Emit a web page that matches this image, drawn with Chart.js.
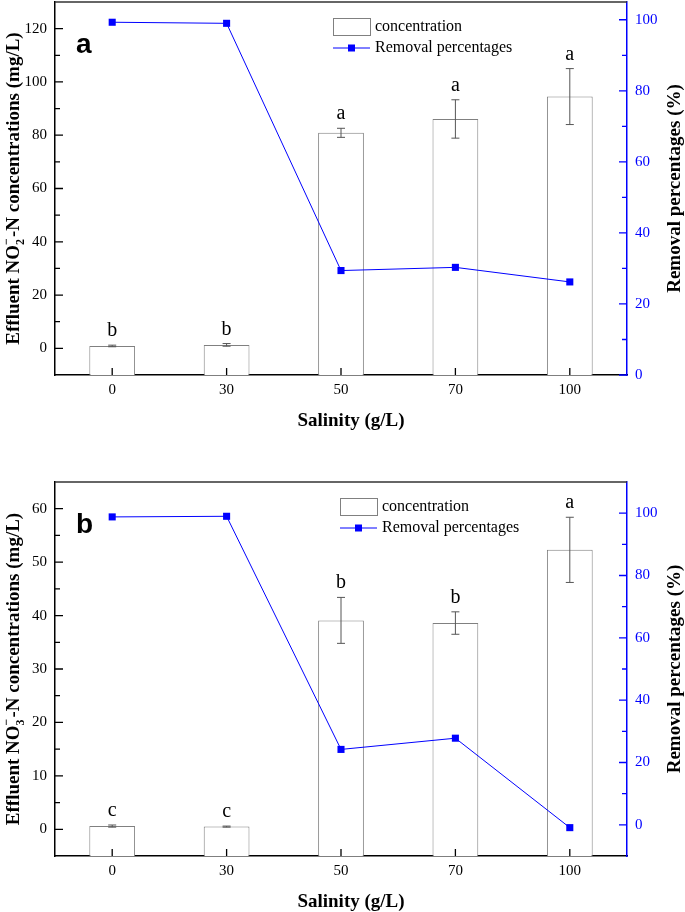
<!DOCTYPE html>
<html>
<head>
<meta charset="utf-8">
<script src="https://cdn.jsdelivr.net/npm/chart.js@4.4.1/dist/chart.umd.min.js"></script>
<style>
  body { margin: 0; background: #fff; overflow: hidden; }
  canvas { position: absolute; left: 0; }
</style>
</head>
<body>
<canvas id="chartA" width="685" height="443" style="top:-3px"></canvas>
<canvas id="chartB" width="685" height="462" style="top:450px"></canvas>
<script>
// salinity levels (g/L)
var salinity = ['0', '30', '50', '70', '100'];

// panel a: nitrite
var no2Conc = [0.9, 1.3, 80.9, 86.1, 94.5];
var no2Err = [0.3, 0.5, 1.7, 7.2, 10.5];
var no2Removal = [99.3, 99.0, 29.4, 30.3, 26.2];
var no2Letters = ['b', 'b', 'a', 'a', 'a'];
var no2Ticks = [0, 20, 40, 60, 80, 100, 120];
var removalTicksA = [0, 20, 40, 60, 80, 100];

// panel b: nitrate
var no3Conc = [0.6, 0.5, 39.1, 38.6, 52.3];
var no3Err = [0.2, 0.1, 4.3, 2.1, 6.1];
var no3Removal = [98.8, 99.0, 24.2, 27.8, -0.9];
var no3Letters = ['c', 'c', 'b', 'b', 'a'];
var no3Ticks = [0, 10, 20, 30, 40, 50, 60];
var removalTicksB = [0, 20, 40, 60, 80, 100];

var SERIF = '"Liberation Serif", "Times New Roman", serif';

function inTicks(ctx, scale, x0, dir, color) {
  var t = scale.ticks.map(function (k) { return k.value; });
  ctx.strokeStyle = color;
  ctx.lineWidth = 1.3;
  ctx.beginPath();
  t.forEach(function (v) {
    var p = scale.getPixelForValue(v);
    ctx.moveTo(x0, p); ctx.lineTo(x0 + dir * 8, p);
  });
  var step = t[1] - t[0];
  var minors = [t[0] - step / 2];
  for (var i = 0; i < t.length; i++) minors.push(t[i] + step / 2);
  minors.forEach(function (v) {
    if (v <= scale.min || v >= scale.max) return;
    var p = scale.getPixelForValue(v);
    ctx.moveTo(x0, p); ctx.lineTo(x0 + dir * 5, p);
  });
  ctx.stroke();
}

var decor = {
  id: 'decor',
  afterDraw: function (chart, args, o) {
    var ctx = chart.ctx, a = chart.chartArea;
    var x = chart.scales.x, y = chart.scales.y, y1 = chart.scales.y1;
    ctx.save();

    // top frame line
    ctx.strokeStyle = '#333';
    ctx.lineWidth = 1.5;
    ctx.beginPath(); ctx.moveTo(a.left, a.top); ctx.lineTo(a.right, a.top); ctx.stroke();

    inTicks(ctx, y, a.left, 1, '#000');
    inTicks(ctx, y1, a.right, -1, '#0000ff');

    ctx.strokeStyle = '#000';
    ctx.beginPath();
    for (var i = 0; i < salinity.length; i++) {
      var px = x.getPixelForValue(i);
      ctx.moveTo(px, a.bottom); ctx.lineTo(px, a.bottom - 7);
    }
    ctx.stroke();

    // error bars + letters
    ctx.strokeStyle = '#555';
    ctx.lineWidth = 1;
    ctx.font = '20px ' + SERIF;
    ctx.fillStyle = '#000';
    ctx.textAlign = 'center';
    ctx.textBaseline = 'alphabetic';
    for (var j = 0; j < o.conc.length; j++) {
      var cx = x.getPixelForValue(j);
      var top = y.getPixelForValue(o.conc[j] + o.err[j]);
      var bot = y.getPixelForValue(o.conc[j] - o.err[j]);
      ctx.beginPath();
      ctx.moveTo(cx, top); ctx.lineTo(cx, bot);
      ctx.moveTo(cx - 4, top); ctx.lineTo(cx + 4, top);
      ctx.moveTo(cx - 4, bot); ctx.lineTo(cx + 4, bot);
      ctx.stroke();
      ctx.fillText(o.letters[j], cx, top - 9);
    }

    // legend
    var lx = o.legendX, ly = a.top + 16;
    ctx.strokeStyle = '#808080';
    ctx.lineWidth = 1;
    ctx.strokeRect(lx + 0.5, ly + 0.5, 37, 17);
    ctx.strokeStyle = '#0000ff';
    ctx.beginPath(); ctx.moveTo(lx, ly + 30); ctx.lineTo(lx + 37, ly + 30); ctx.stroke();
    ctx.fillStyle = '#0000ff';
    ctx.fillRect(lx + 15, ly + 26.5, 7, 7);
    ctx.fillStyle = '#000';
    ctx.font = '16px ' + SERIF;
    ctx.textAlign = 'left';
    ctx.textBaseline = 'middle';
    ctx.fillText('concentration', lx + 42, ly + 9);
    ctx.fillText('Removal percentages', lx + 42, ly + 30);

    // panel letter
    ctx.font = 'bold 28px "Liberation Sans", Arial, sans-serif';
    ctx.textBaseline = 'alphabetic';
    ctx.fillText(o.panel, 76, a.top + 51);

    // x title
    ctx.font = 'bold 19px ' + SERIF;
    ctx.textAlign = 'center';
    ctx.textBaseline = 'middle';
    ctx.fillText('Salinity (g/L)', (a.left + a.right) / 2 + 10, a.bottom + 46);

    // right title
    var cy = (a.top + a.bottom) / 2;
    ctx.save();
    ctx.translate(675, cy);
    ctx.rotate(-Math.PI / 2);
    ctx.fillText('Removal percentages (%)', 0, 0);
    ctx.restore();

    // left title with sub/superscript
    ctx.save();
    ctx.translate(13, cy);
    ctx.rotate(-Math.PI / 2);
    ctx.textAlign = 'left';
    ctx.textBaseline = 'alphabetic';
    var big = 'bold 19px ' + SERIF, small = 'bold 12px ' + SERIF;
    var p1 = 'Effluent NO', p2 = '-N concentrations (mg/L)';
    ctx.font = big;
    var w1 = ctx.measureText(p1).width, w2 = ctx.measureText(p2).width;
    ctx.font = small;
    var ws = Math.max(ctx.measureText(o.sub).width, ctx.measureText('\u2212').width) + 1;
    var sx = -(w1 + ws + w2) / 2;
    ctx.font = big;
    ctx.fillText(p1, sx, 6);
    ctx.font = small;
    ctx.fillText(o.sub, sx + w1, 11);
    ctx.fillText('\u2212', sx + w1, -3);
    ctx.font = big;
    ctx.fillText(p2, sx + w1 + ws, 6);
    ctx.restore();

    ctx.restore();
  }
};

function makeChart(id, conc, err, removal, letters, leftTicks, rightTicks, cfg) {
  return new Chart(document.getElementById(id), {
    type: 'bar',
    data: {
      labels: salinity,
      datasets: [
        {
          type: 'line',
          label: 'Removal percentages',
          data: removal,
          yAxisID: 'y1',
          borderColor: '#0000ff',
          borderWidth: 1,
          pointStyle: 'rect',
          pointRadius: 5,
          pointBackgroundColor: '#0000ff',
          pointBorderColor: '#0000ff',
          pointBorderWidth: 0,
          tension: 0,
          order: 0
        },
        {
          label: 'concentration',
          data: conc,
          yAxisID: 'y',
          base: cfg.yMin,
          backgroundColor: '#ffffff',
          borderColor: '#808080',
          borderWidth: 1,
          categoryPercentage: 1,
          barPercentage: 0.4,
          order: 1
        }
      ]
    },
    options: {
      responsive: false,
      animation: false,
      events: [],
      layout: { padding: { top: cfg.padTop, left: 0, right: 0, bottom: 0 } },
      plugins: {
        legend: { display: false },
        tooltip: { enabled: false },
        decor: { conc: conc, err: err, letters: letters, panel: cfg.panel, sub: cfg.sub, legendX: cfg.legendX }
      },
      scales: {
        x: {
          offset: true,
          grid: { display: false, drawTicks: false },
          border: { color: '#000', width: 1.5 },
          ticks: { color: '#000', font: { family: SERIF, size: 15 }, padding: 6 },
          afterFit: function (s) { s.height = cfg.xHeight; s.paddingLeft = 0; s.paddingRight = 0; }
        },
        y: {
          position: 'left',
          min: cfg.yMin,
          max: cfg.yMax,
          grid: { display: false, drawTicks: false },
          border: { color: '#000', width: 1.5 },
          ticks: { color: '#000', font: { family: SERIF, size: 15 }, padding: 8 },
          afterBuildTicks: function (s) { s.ticks = leftTicks.map(function (v) { return { value: v }; }); },
          afterFit: function (s) { s.width = 55; s.paddingTop = 0; s.paddingBottom = 0; }
        },
        y1: {
          position: 'right',
          min: cfg.rMin,
          max: cfg.rMax,
          grid: { display: false, drawTicks: false },
          border: { color: '#0000ff', width: 1.5 },
          ticks: { color: '#0000ff', font: { family: SERIF, size: 15 }, padding: 8 },
          afterBuildTicks: function (s) { s.ticks = rightTicks.map(function (v) { return { value: v }; }); },
          afterFit: function (s) { s.width = 58; s.paddingTop = 0; s.paddingBottom = 0; }
        }
      }
    },
    plugins: [decor]
  });
}

makeChart('chartA', no2Conc, no2Err, no2Removal, no2Letters, no2Ticks, removalTicksA,
  { yMin: -10, yMax: 130, rMin: 0, rMax: 105, padTop: 1, xHeight: 65, panel: 'a', sub: '2', legendX: 333 });

makeChart('chartB', no3Conc, no3Err, no3Removal, no3Letters, no3Ticks, removalTicksB,
  { yMin: -5, yMax: 65, rMin: -10, rMax: 110, padTop: 32, xHeight: 56, panel: 'b', sub: '3', legendX: 340 });
</script>
</body>
</html>
